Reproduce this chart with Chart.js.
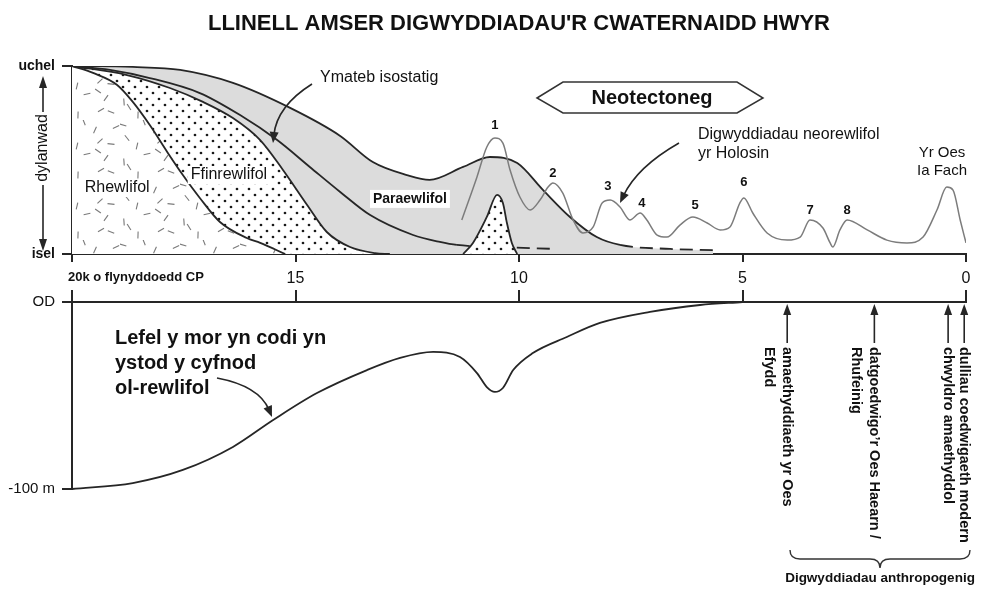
<!DOCTYPE html>
<html><head><meta charset="utf-8">
<script src="https://cdn.jsdelivr.net/npm/chart.js@4.4.1/dist/chart.umd.min.js"></script>
<style>
html,body{margin:0;padding:0;background:#fff;}
#wrap{position:relative;width:984px;height:589px;overflow:hidden;background:#fff;}
#c1{position:absolute;left:0;top:0;}
#c2{position:absolute;left:0;top:284px;}
</style></head><body>
<div id="wrap"><canvas id="c1" width="984" height="300"></canvas><canvas id="c2" width="984" height="305"></canvas></div>
<script>
// ---------- DATA (years in thousands before present; influence 0-100) ----------
const timeTicks = [20, 15, 10, 5, 0];
const influenceTicks = [0, 100];
const influenceLabels = ['isel', 'uchel'];
const seaTicks = [0, -100];
const seaLabels = ['OD', '-100 m'];

const glacialYears  = [20, 19.53, 18.99, 18.64, 18.26, 17.87, 17.52, 17.14, 16.69, 16.09, 15.79, 15.23];
const glacialValues = [100, 96.3, 89.9, 80.9, 68.6, 54.3, 42.0, 29.8, 17.0, 8.5, 5.9, 0];

const periglacialYears  = [20, 18.77, 17.81, 17.07, 16.40, 15.79, 15.28, 14.74, 14.30, 13.78, 13.22, 12.89];
const periglacialValues = [100, 95.2, 88.3, 80.9, 72.3, 60.6, 44.7, 26.1, 11.7, 3.7, 0.5, 0];

const isostaticYears  = [20, 19.15, 18.26, 17.14, 16.24, 15.41, 14.68, 14.0, 13.33, 12.37, 11.77, 11.39, 10.43, 9.19];
const isostaticValues = [100, 97.9, 93.6, 85.6, 73.9, 60.6, 46.3, 33.0, 20.7, 10.1, 6.4, 4.8, 3.7, 2.7];

const paraglacialYears  = [20, 18.64, 17.58, 16.40, 15.12, 14.0, 13.27, 12.51, 12.0, 11.25, 10.65, 10.04, 9.46, 8.86, 8.26, 7.74, 6.62, 5.66];
const paraglacialValues = [100, 99.5, 97.9, 91.0, 77.7, 62.8, 48.9, 42.0, 39.4, 46.3, 51.6, 48.4, 34.0, 19.7, 9.0, 4.8, 2.7, 2.1];

const readvanceYears  = [11.25, 11.03, 10.72, 10.49, 10.36, 10.27, 10.16, 10.04];
const readvanceValues = [0, 5.9, 19.7, 31.4, 27.1, 16.5, 5.9, 0];

const holoceneYears  = [11.28, 10.94, 10.72, 10.54, 10.36, 10.20, 9.98, 9.75, 9.53, 9.35, 9.24, 9.02, 8.79, 8.57, 8.34, 8.14, 7.96, 7.74, 7.52, 7.29, 7.14, 6.91, 6.69, 6.40, 6.11, 5.79, 5.50, 5.28, 5.06, 4.97, 4.77, 4.45, 4.00, 3.71, 3.49, 3.20, 3.04, 2.98, 2.82, 2.66, 2.21, 1.77, 1.32, 0.96, 0.65, 0.43, 0.29, 0.13, 0.0];
const holoceneValues = [18.1, 41.0, 56.9, 61.7, 59.0, 44.7, 30.3, 23.4, 28.7, 35.6, 37.8, 32.4, 18.1, 11.2, 14.4, 27.1, 28.7, 25.0, 18.1, 21.8, 18.1, 10.1, 9.0, 15.4, 19.7, 16.5, 12.8, 14.4, 27.1, 29.8, 21.8, 11.2, 7.4, 9.0, 18.1, 13.8, 5.9, 3.7, 12.8, 18.1, 12.8, 7.4, 5.9, 9.0, 23.4, 35.6, 34.0, 18.1, 5.9];

const eventLabels = ['1', '2', '3', '4', '5', '6', '7', '8'];
const eventYears  = [10.54, 9.24, 8.01, 7.25, 6.06, 4.97, 3.49, 2.66];
const eventValues = [68.6, 43.1, 36.2, 27.1, 26.1, 38.3, 23.4, 23.4];

const seaLevelYears  = [20, 18.64, 17.52, 16.40, 15.50, 14.52, 13.40, 12.66, 11.92, 11.32, 10.94, 10.72, 10.54, 10.36, 10.13, 9.69, 8.93, 8.19, 7.07, 5.95, 5.0];
const seaLevelValues = [-100, -96.8, -89.8, -77.5, -63.1, -48.7, -36.4, -29.9, -26.7, -29.4, -38.0, -45.5, -48.1, -46.0, -36.4, -27.3, -18.7, -11.2, -5.3, -1.6, 0];

const anthroYears  = [4.0, 2.05, 0.4, 0.04];
const anthroLabels = [['amaethyddiaeth yr Oes', 'Efydd'], ['datgoedwigo\u2019r Oes Haearn /', 'Rhufeinig'], ['chwyldro amaethyddol'], ['dulliau coedwigaeth modern']];

// ---------- STYLE ----------
const SANS = '"Liberation Sans", Arial, Helvetica, sans-serif';
const NARROW = '"Liberation Sans Narrow", "Arial Narrow", "Liberation Sans", sans-serif';
const INK = '#262626';

const pts = (xs, ys) => xs.map((x, i) => ({x: x, y: ys[i]}));

function makeDotPattern() {
  const c = document.createElement('canvas'); c.width = 12; c.height = 12;
  const g = c.getContext('2d');
  g.fillStyle = '#fff'; g.fillRect(0, 0, 12, 12);
  g.fillStyle = '#1a1a1a';
  [[3, 3], [9, 9]].forEach(p => { g.beginPath(); g.arc(p[0], p[1], 1.35, 0, Math.PI * 2); g.fill(); });
  return g.createPattern(c, 'repeat');
}
function makeDashPattern() {
  const c = document.createElement('canvas'); c.width = 60; c.height = 60;
  const g = c.getContext('2d');
  g.fillStyle = '#fff'; g.fillRect(0, 0, 60, 60);
  g.strokeStyle = '#7a7a7a'; g.lineWidth = 1.1;
  const jx = [3, 9, 5, 11, 7, 2, 10, 6, 4, 12, 8, 1, 9, 3, 11, 6];
  const jy = [5, 2, 10, 7, 3, 11, 6, 9, 12, 4, 1, 8, 2, 10, 5, 7];
  const an = [0.3, 1.2, 2.0, 2.7, 0.9, 1.8, 2.4, 0.1, 1.5, 2.9, 0.6, 2.2, 1.0, 1.6, 2.6, 0.4];
  for (let i = 0; i < 16; i++) {
    const cx = (i % 4) * 15 + jx[i], cy = Math.floor(i / 4) * 15 + jy[i];
    const dx = 3.5 * Math.cos(an[i]), dy = 3.5 * Math.sin(an[i]);
    g.beginPath(); g.moveTo(cx - dx, cy - dy); g.lineTo(cx + dx, cy + dy); g.stroke();
  }
  return g.createPattern(c, 'repeat');
}
const dotPattern = makeDotPattern();
const dashPattern = makeDashPattern();

function arrowHead(ctx, fx, fy, tx, ty, len, hw) {
  const a = Math.atan2(ty - fy, tx - fx);
  ctx.beginPath();
  ctx.moveTo(tx, ty);
  ctx.lineTo(tx - len * Math.cos(a) + hw * Math.sin(a), ty - len * Math.sin(a) - hw * Math.cos(a));
  ctx.lineTo(tx - len * Math.cos(a) - hw * Math.sin(a), ty - len * Math.sin(a) + hw * Math.cos(a));
  ctx.closePath(); ctx.fill();
}
function curvedArrow(ctx, sx, sy, cx, cy, tx, ty) {
  const a = Math.atan2(ty - cy, tx - cx);
  ctx.beginPath(); ctx.moveTo(sx, sy);
  ctx.quadraticCurveTo(cx, cy, tx - 8 * Math.cos(a), ty - 8 * Math.sin(a));
  ctx.stroke();
  arrowHead(ctx, cx, cy, tx, ty, 11, 4.5);
}
function boxedText(ctx, text, x, y, font) {
  ctx.font = font;
  const w = ctx.measureText(text).width;
  ctx.fillStyle = '#fff';
  ctx.fillRect(x - w / 2 - 3, y - 9, w + 6, 18);
  ctx.fillStyle = '#111';
  ctx.textAlign = 'center'; ctx.textBaseline = 'middle';
  ctx.fillText(text, x, y);
}

const annotTop = {
  id: 'annotTop',
  afterDraw(chart) {
    const ctx = chart.ctx, xs = chart.scales.x, ys = chart.scales.y;
    const X = v => xs.getPixelForValue(v), Y = v => ys.getPixelForValue(v);
    ctx.save();
    ctx.strokeStyle = INK; ctx.fillStyle = INK; ctx.lineWidth = 1.6;

    // y axis title with arrows
    ctx.beginPath(); ctx.moveTo(43, 86); ctx.lineTo(43, 112); ctx.moveTo(43, 185); ctx.lineTo(43, 241); ctx.stroke();
    arrowHead(ctx, 43, 100, 43, 76, 12, 4);
    arrowHead(ctx, 43, 230, 43, 251, 12, 4);
    ctx.save(); ctx.translate(43, 148); ctx.rotate(-Math.PI / 2);
    ctx.font = '16px ' + SANS; ctx.fillStyle = '#111'; ctx.textAlign = 'center'; ctx.textBaseline = 'middle';
    ctx.fillText('dylanwad', 0, 0); ctx.restore();

    // first tick label
    ctx.fillStyle = '#111'; ctx.font = 'bold 13px ' + SANS; ctx.textAlign = 'left'; ctx.textBaseline = 'middle';
    ctx.fillText('20k o flynyddoedd CP', 68, 277);

    // region labels
    boxedText(ctx, 'Rhewlifol', X(18.99), Y(35.1), '16px ' + SANS);
    boxedText(ctx, 'Ffinrewlifol', X(16.49), Y(42.0), '16px ' + SANS);
    boxedText(ctx, 'Paraewlifol', X(12.44), Y(29.3), 'bold 14px ' + SANS);

    // event numbers
    ctx.fillStyle = '#111'; ctx.font = 'bold 13px ' + SANS; ctx.textAlign = 'center'; ctx.textBaseline = 'middle';
    eventLabels.forEach((t, i) => ctx.fillText(t, X(eventYears[i]), Y(eventValues[i])));

    // Ymateb isostatig
    ctx.font = '16px ' + SANS; ctx.textAlign = 'left';
    ctx.fillText('Ymateb isostatig', 320, 78);
    ctx.fillStyle = INK;
    curvedArrow(ctx, 312, 84, 277, 106, 273, 143);

    // Holocene neoglacial events
    ctx.fillStyle = '#111'; ctx.font = '16px ' + SANS; ctx.textAlign = 'left';
    ctx.fillText('Digwyddiadau neorewlifol', 698, 135);
    ctx.fillText('yr Holosin', 698, 154);
    ctx.fillStyle = INK;
    curvedArrow(ctx, 679, 143, 637, 167, 620, 203);

    // Little Ice Age
    ctx.fillStyle = '#111'; ctx.font = '15px ' + SANS; ctx.textAlign = 'center';
    ctx.fillText('Yr Oes', 942, 153);
    ctx.fillText('Ia Fach', 942, 171);

    // Neotectonics box
    ctx.beginPath();
    ctx.moveTo(537, 98); ctx.lineTo(563, 82); ctx.lineTo(737, 82); ctx.lineTo(763, 98); ctx.lineTo(737, 113); ctx.lineTo(563, 113); ctx.closePath();
    ctx.fillStyle = '#fff'; ctx.fill(); ctx.strokeStyle = '#333'; ctx.lineWidth = 1.5; ctx.stroke();
    ctx.fillStyle = '#111'; ctx.font = 'bold 20px ' + SANS; ctx.textAlign = 'center'; ctx.textBaseline = 'middle';
    ctx.fillText('Neotectoneg', 652, 98);
    ctx.restore();
  }
};

const annotBottom = {
  id: 'annotBottom',
  afterDraw(chart) {
    const ctx = chart.ctx, xs = chart.scales.x;
    const X = v => xs.getPixelForValue(v);
    const oy = 284;
    ctx.save();
    ctx.fillStyle = '#111'; ctx.strokeStyle = INK; ctx.lineWidth = 1.6;
    ctx.font = 'bold 20px ' + SANS; ctx.textAlign = 'left'; ctx.textBaseline = 'middle';
    ['Lefel y mor yn codi yn', 'ystod y cyfnod', 'ol-rewlifol'].forEach((t, i) => ctx.fillText(t, 115, 338 - oy + i * 25));
    ctx.fillStyle = INK;
    curvedArrow(ctx, 217, 378 - oy, 259, 386 - oy, 272, 417 - oy);

    // anthropogenic events
    anthroYears.forEach((yr, i) => {
      const x = X(yr);
      ctx.strokeStyle = INK; ctx.fillStyle = INK;
      ctx.beginPath(); ctx.moveTo(x, 312 - oy); ctx.lineTo(x, 343 - oy); ctx.stroke();
      arrowHead(ctx, x, 330 - oy, x, 304 - oy, 11, 4);
      ctx.save(); ctx.translate(x, 347 - oy); ctx.rotate(Math.PI / 2);
      ctx.fillStyle = '#111'; ctx.font = 'bold 14.5px ' + SANS; ctx.textAlign = 'left'; ctx.textBaseline = 'middle';
      anthroLabels[i].forEach((t, j) => ctx.fillText(t, 0, j * 18));
      ctx.restore();
    });

    // brace
    const bl = 790, br = 970, bm = 880, bt = 550 - oy, bmid = 559 - oy, btip = 568 - oy;
    ctx.strokeStyle = '#333'; ctx.lineWidth = 1.4;
    ctx.beginPath();
    ctx.moveTo(bl, bt); ctx.quadraticCurveTo(bl, bmid, bl + 10, bmid);
    ctx.lineTo(bm - 10, bmid); ctx.quadraticCurveTo(bm, bmid, bm, btip);
    ctx.quadraticCurveTo(bm, bmid, bm + 10, bmid);
    ctx.lineTo(br - 10, bmid); ctx.quadraticCurveTo(br, bmid, br, bt);
    ctx.stroke();
    ctx.fillStyle = '#111'; ctx.font = 'bold 13.5px ' + SANS; ctx.textAlign = 'center'; ctx.textBaseline = 'middle';
    ctx.fillText('Digwyddiadau anthropogenig', bm, 578 - oy);
    ctx.restore();
  }
};

const commonX = (h, pos, showLabels, tickLen) => ({
  type: 'linear', min: 0, max: 20, reverse: true, position: pos,
  afterBuildTicks: s => { s.ticks = timeTicks.map(v => ({value: v})); },
  afterFit: s => { s.height = h; },
  ticks: {display: showLabels, autoSkip: false, maxRotation: 0, padding: 7, color: '#111',
    font: {family: NARROW, size: 16}, callback: v => (v === 20 ? '' : String(v))},
  grid: {drawOnChartArea: false, drawTicks: true, tickLength: tickLen, color: '#262626', lineWidth: 2},
  border: {display: true, color: '#262626', width: 2}
});

new Chart(document.getElementById('c1'), {
  type: 'line',
  data: {datasets: [
    {label: 'Paraewlifol', data: pts(paraglacialYears, paraglacialValues), fill: 'origin', backgroundColor: '#dcdcdc',
     borderColor: INK, borderWidth: 1.8, borderDash: [], order: 6,
     segment: {borderDash: c => (c.p0.parsed.x <= 7.8 ? [13, 7] : undefined)}},
    {label: 'Ffinrewlifol', data: pts(periglacialYears, periglacialValues), fill: 'origin', backgroundColor: dotPattern,
     borderColor: INK, borderWidth: 1.8, order: 5},
    {label: 'Rhewlifol', data: pts(glacialYears, glacialValues), fill: 'origin', backgroundColor: dashPattern,
     borderColor: INK, borderWidth: 1.8, order: 4},
    {label: 'Ymateb isostatig', data: pts(isostaticYears, isostaticValues), fill: false,
     borderColor: INK, borderWidth: 1.8, borderDash: [], order: 3,
     segment: {borderDash: c => (c.p0.parsed.x <= 11.4 ? [13, 7] : undefined)}},
    {label: 'Ail-rewlifiant', data: pts(readvanceYears, readvanceValues), fill: 'origin', backgroundColor: dotPattern,
     borderColor: INK, borderWidth: 1.8, order: 2},
    {label: 'Digwyddiadau neorewlifol', data: pts(holoceneYears, holoceneValues), fill: false,
     borderColor: '#7c7c7c', borderWidth: 1.5, order: 1}
  ]},
  options: {
    responsive: false, animation: false, events: [],
    layout: {padding: {left: 0, right: 18, top: 0, bottom: 0}},
    elements: {point: {radius: 0}, line: {cubicInterpolationMode: 'monotone'}},
    plugins: {
      legend: {display: false}, tooltip: {enabled: false},
      title: {display: true, fullSize: false, text: 'LLINELL AMSER DIGWYDDIADAU\'R CWATERNAIDD HWYR',
        color: '#111', font: {family: SANS, size: 22, weight: 'bold', lineHeight: 1.2}, padding: {top: 11, bottom: 28.6}}
    },
    scales: {
      x: commonX(46, 'bottom', true, 8),
      y: {type: 'linear', min: 0, max: 100, position: 'left',
        afterBuildTicks: s => { s.ticks = influenceTicks.map(v => ({value: v})); },
        afterFit: s => { s.width = 72; },
        ticks: {padding: 7, color: '#111', font: {family: SANS, size: 14, weight: 'bold'},
          callback: v => influenceLabels[influenceTicks.indexOf(v)]},
        grid: {drawOnChartArea: false, drawTicks: true, tickLength: 10, color: '#262626', lineWidth: 2},
        border: {display: true, color: '#262626', width: 2}}
    }
  },
  plugins: [annotTop]
});

new Chart(document.getElementById('c2'), {
  type: 'line',
  data: {datasets: [
    {label: 'Lefel y mor', data: pts(seaLevelYears, seaLevelValues), fill: false, borderColor: INK, borderWidth: 1.8, clip: 6}
  ]},
  options: {
    responsive: false, animation: false, events: [],
    layout: {padding: {left: 0, right: 18, top: 0, bottom: 100}},
    elements: {point: {radius: 0}, line: {cubicInterpolationMode: 'monotone'}},
    plugins: {legend: {display: false}, tooltip: {enabled: false}},
    scales: {
      x: commonX(18, 'top', false, 12),
      y: {type: 'linear', min: -100, max: 0, position: 'left',
        afterBuildTicks: s => { s.ticks = seaTicks.map(v => ({value: v})); },
        afterFit: s => { s.width = 72; },
        ticks: {padding: 7, color: '#111', font: {family: NARROW, size: 15},
          callback: v => seaLabels[seaTicks.indexOf(v)]},
        grid: {drawOnChartArea: false, drawTicks: true, tickLength: 10, color: '#262626', lineWidth: 2},
        border: {display: true, color: '#262626', width: 2}}
    }
  },
  plugins: [annotBottom]
});
</script>
</body></html>
